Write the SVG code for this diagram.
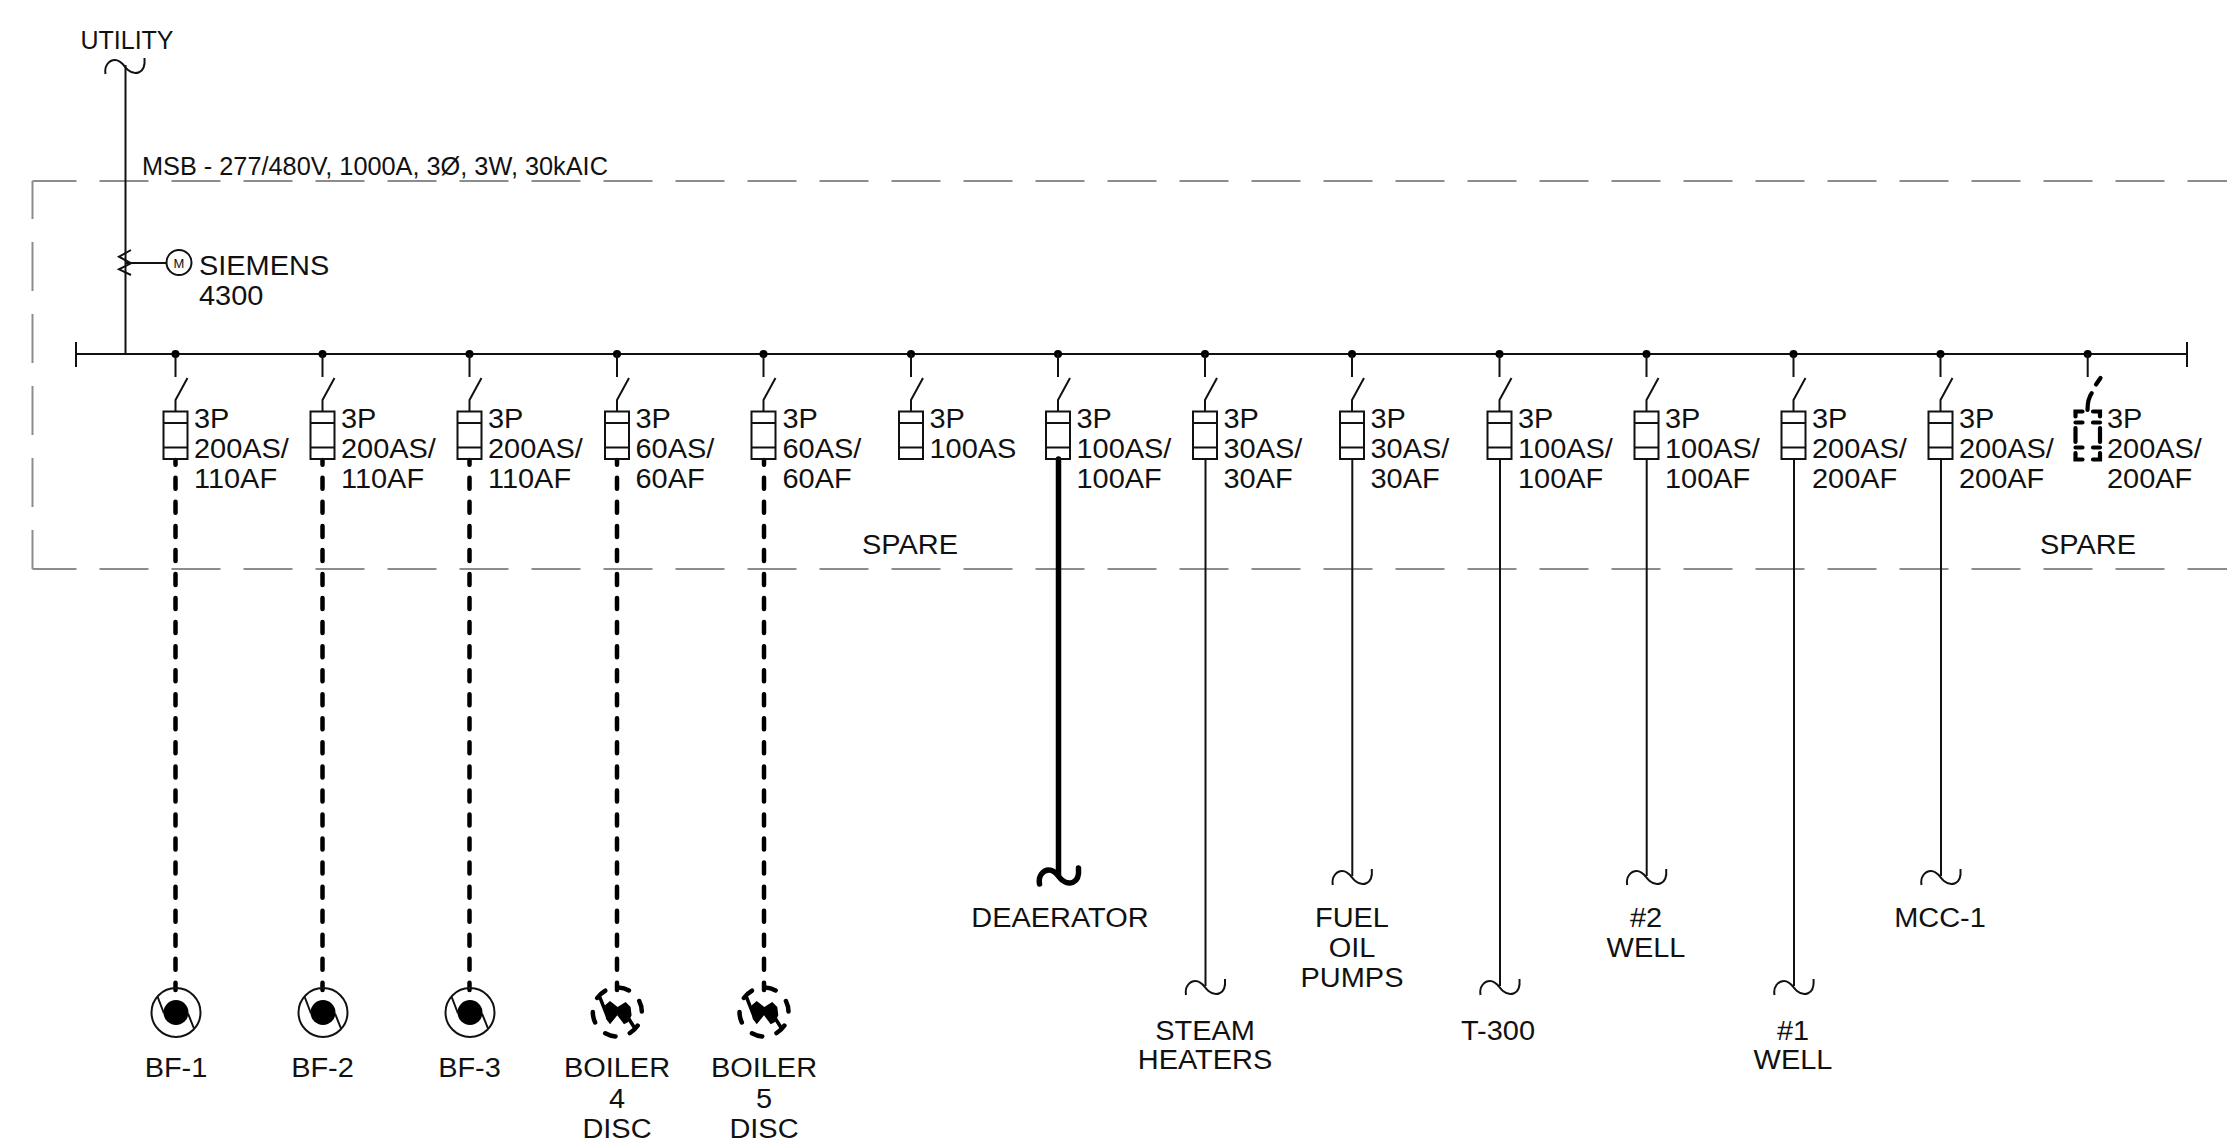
<svg xmlns="http://www.w3.org/2000/svg" width="2227" height="1144" viewBox="0 0 2227 1144">
<style>
text{font-family:"Liberation Sans",Arial,sans-serif;font-size:26.8px;fill:#111;transform-box:fill-box;transform-origin:0 0;transform:scaleX(1.08)}
.c{text-anchor:middle;transform-origin:50% 0}
.n{transform:none}
.f{fill:none;stroke:#8c8c8c;stroke-width:2;stroke-dasharray:49 23}
.l{fill:none;stroke:#111;stroke-width:2}
.d{fill:none;stroke:#000;stroke-width:4.5;stroke-linecap:round;stroke-dasharray:11 13.05;stroke-dashoffset:6.25}
.t{fill:none;stroke:#000;stroke-width:5.5;stroke-linecap:round}
.s{fill:none;stroke:#000;stroke-width:4.2;stroke-linecap:round}
</style>
<defs>
<g id="brk"><circle cx="0" cy="0" r="4" fill="#000"/><path class="l" d="M0 0V23M12 24L0 46V57"/><path class="l" d="M-12 57.5H12V105H-12ZM-12 69H12M-12 93.5H12"/></g>
<path id="wave" d="M-19.5 9C-21 1 -16 -5 -10 -5C-3 -5 -1 2 3 5C9 10 21 10 19.5 -7"/>
<g id="fan"><circle r="24.5" class="l"/><circle r="12.5" fill="#000"/><path class="l" d="M-18.3 -15.5L-12 1M12 1L18 16"/></g>
<g id="disc"><circle r="24.5" fill="none" stroke="#000" stroke-width="4.5" stroke-linecap="round" stroke-dasharray="10.8 14.86" transform="rotate(-87)"/><path d="M-12.3 -6.7L-7.3 -11L0.3 -5L8.3 -10L13.3 -5L14.3 3.3L11 10L6.7 12.3L0 3.3L-7.3 12.3L-11.3 6.7Z" fill="#000"/><path d="M-17.3 -14.3L-9 6.7M9.3 3.3L16.7 15" fill="none" stroke="#000" stroke-width="3.5" stroke-linecap="round"/></g>
</defs>
<g id="frame">
<path class="f" style="stroke-dashoffset:5" d="M32.5 181H2227"/>
<path class="f" style="stroke-dashoffset:11" d="M32.5 181V569"/>
<path class="f" style="stroke-dashoffset:5" d="M32.5 569H2227"/>
</g>
<g id="connectors">
<path class="l" d="M125.5 65V354"/>
<path class="l" d="M76 354H2187M76 342V367M2187 342V367"/>
<path class="l" d="M131 250L119 256.7L131 263.3L119 269.3L131 275M125 263H166"/>
<path class="d" d="M175.5 460V990"/><path class="d" d="M322.5 460V990"/><path class="d" d="M469.5 460V990"/><path class="d" d="M617 460V990"/><path class="d" d="M764 460V990"/>
<path class="t" d="M1058.5 459V875"/>
<path class="l" d="M1205.5 459V986"/><path class="l" d="M1352.3 459V876"/><path class="l" d="M1500 459V986"/><path class="l" d="M1646.7 459V876"/><path class="l" d="M1794 459V986"/><path class="l" d="M1941 459V876"/>
</g>
<g id="utility"><use href="#wave" x="125" y="65" fill="none" stroke="#111" stroke-width="2"/><text class="c n" x="127" y="49" style="font-size:25px">UTILITY</text></g>
<g id="msb"><text class="n" x="142" y="175" style="font-size:25.3px">MSB - 277/480V, 1000A, 3Ø, 3W, 30kAIC</text></g>
<g id="meter"><circle cx="179" cy="262.5" r="12.5" class="l"/><text class="c n" x="179" y="267.5" style="font-size:13px">M</text><text x="199" y="275">SIEMENS</text><text x="199" y="305">4300</text></g>

<g id="b1"><use href="#brk" x="175.5" y="354"/><text x="194" y="428">3P</text><text x="194" y="458">200AS/</text><text x="194" y="488">110AF</text></g>
<g id="b2"><use href="#brk" x="322.5" y="354"/><text x="341" y="428">3P</text><text x="341" y="458">200AS/</text><text x="341" y="488">110AF</text></g>
<g id="b3"><use href="#brk" x="469.5" y="354"/><text x="488" y="428">3P</text><text x="488" y="458">200AS/</text><text x="488" y="488">110AF</text></g>
<g id="b4"><use href="#brk" x="617" y="354"/><text x="635.5" y="428">3P</text><text x="635.5" y="458">60AS/</text><text x="635.5" y="488">60AF</text></g>
<g id="b5"><use href="#brk" x="763.5" y="354"/><text x="782.5" y="428">3P</text><text x="782.5" y="458">60AS/</text><text x="782.5" y="488">60AF</text></g>
<g id="b6"><use href="#brk" x="911" y="354"/><text x="929.5" y="428">3P</text><text x="929.5" y="458">100AS</text><text class="c" x="910" y="554">SPARE</text></g>
<g id="b7"><use href="#brk" x="1058" y="354"/><text x="1076.5" y="428">3P</text><text x="1076.5" y="458">100AS/</text><text x="1076.5" y="488">100AF</text></g>
<g id="b8"><use href="#brk" x="1205" y="354"/><text x="1223.5" y="428">3P</text><text x="1223.5" y="458">30AS/</text><text x="1223.5" y="488">30AF</text></g>
<g id="b9"><use href="#brk" x="1352" y="354"/><text x="1370.5" y="428">3P</text><text x="1370.5" y="458">30AS/</text><text x="1370.5" y="488">30AF</text></g>
<g id="b10"><use href="#brk" x="1499.5" y="354"/><text x="1518" y="428">3P</text><text x="1518" y="458">100AS/</text><text x="1518" y="488">100AF</text></g>
<g id="b11"><use href="#brk" x="1646.5" y="354"/><text x="1665" y="428">3P</text><text x="1665" y="458">100AS/</text><text x="1665" y="488">100AF</text></g>
<g id="b12"><use href="#brk" x="1793.5" y="354"/><text x="1812" y="428">3P</text><text x="1812" y="458">200AS/</text><text x="1812" y="488">200AF</text></g>
<g id="b13"><use href="#brk" x="1940.5" y="354"/><text x="1959" y="428">3P</text><text x="1959" y="458">200AS/</text><text x="1959" y="488">200AF</text></g>
<g id="b14"><circle cx="2087.7" cy="354" r="4" fill="#000"/><path class="l" d="M2087.7 354V377"/>
<path class="s" d="M2100.5 378L2096 384.5M2091.7 393.3Q2087.5 399 2087.5 410"/>
<path class="s" d="M2082.5 411.5H2075.5V416.5M2093 411.5H2100V416.5M2075.5 422.5H2082.5M2093 422.5H2100M2075.5 428V442M2100 428V442M2075.5 447.5H2082.5M2093 447.5H2100M2075.5 453V459.5H2082.5M2100 453V459.5H2093"/>
<text x="2107" y="428">3P</text><text x="2107" y="458">200AS/</text><text x="2107" y="488">200AF</text><text class="c" x="2088" y="554">SPARE</text></g>

<g id="bf1"><use href="#fan" x="176" y="1012.5"/><text class="c" x="176" y="1077">BF-1</text></g>
<g id="bf2"><use href="#fan" x="323" y="1012.5"/><text class="c" x="322.5" y="1077">BF-2</text></g>
<g id="bf3"><use href="#fan" x="470" y="1012.5"/><text class="c" x="469.5" y="1077">BF-3</text></g>
<g id="boiler4"><use href="#disc" x="617.3" y="1012"/><text class="c" x="617" y="1077">BOILER</text><text class="c" x="617" y="1108">4</text><text class="c" x="617" y="1138">DISC</text></g>
<g id="boiler5"><use href="#disc" x="764" y="1012"/><text class="c" x="764" y="1077">BOILER</text><text class="c" x="764" y="1108">5</text><text class="c" x="764" y="1138">DISC</text></g>
<g id="deaerator"><use href="#wave" x="1059" y="875" fill="none" stroke="#000" stroke-width="5.5" stroke-linecap="round"/><text class="c" x="1060" y="927">DEAERATOR</text></g>
<g id="steam"><use href="#wave" x="1205.5" y="986" class="l"/><text class="c" x="1205" y="1040">STEAM</text><text class="c" x="1205" y="1069">HEATERS</text></g>
<g id="fuel"><use href="#wave" x="1352.3" y="876" class="l"/><text class="c" x="1352" y="927">FUEL</text><text class="c" x="1352" y="957">OIL</text><text class="c" x="1352" y="987">PUMPS</text></g>
<g id="t300"><use href="#wave" x="1500" y="986" class="l"/><text class="c" x="1498" y="1040">T-300</text></g>
<g id="well2"><use href="#wave" x="1646.7" y="876" class="l"/><text class="c" x="1646" y="927">#2</text><text class="c" x="1646" y="957">WELL</text></g>
<g id="well1"><use href="#wave" x="1794" y="986" class="l"/><text class="c" x="1793" y="1040">#1</text><text class="c" x="1793" y="1069">WELL</text></g>
<g id="mcc"><use href="#wave" x="1941" y="876" class="l"/><text class="c" x="1940" y="927">MCC-1</text></g>
</svg>
